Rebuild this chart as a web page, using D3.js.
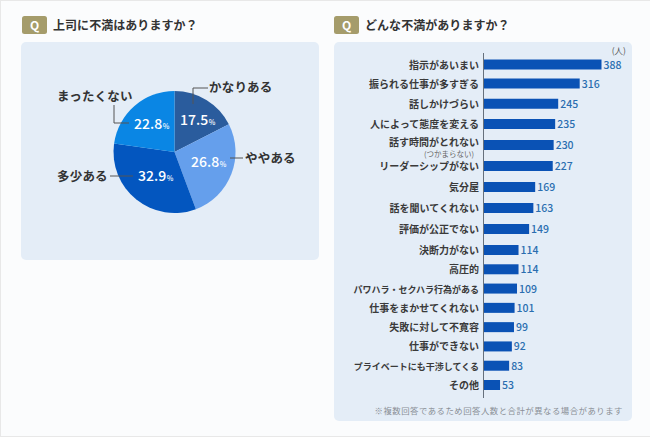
<!DOCTYPE html>
<html>
<head>
  <meta charset="utf-8">
  <script src="https://d3js.org/d3.v7.min.js"></script>
  <style>
    html, body { margin: 0; padding: 0; background: #fbfcfd; }
    svg { display: block; }
    text { font-family: "Noto Sans CJK JP", sans-serif; }
  </style>
</head>
<body>
  <script>
    // pie data
    var pieLabels = ["かなりある", "ややある", "多少ある", "まったくない"];
    var pieValues = [17.5, 26.8, 32.9, 22.8];
    var pieColors = ["#2a5c9d", "#659fec", "#0356bf", "#0a86e4"];

    // bar data
    var barLabels = ["指示があいまい", "振られる仕事が多すぎる", "話しかけづらい", "人によって態度を変える",
      "話す時間がとれない", "リーダーシップがない", "気分屋", "話を聞いてくれない", "評価が公正でない",
      "決断力がない", "高圧的", "パワハラ・セクハラ行為がある", "仕事をまかせてくれない", "失敗に対して不寛容",
      "仕事ができない", "プライベートにも干渉してくる", "その他"];
    var barValues = [388, 316, 245, 235, 230, 227, 169, 163, 149, 114, 114, 109, 101, 99, 92, 83, 53];

    var width = 650, height = 437;
    var svg = d3.select("body").append("svg")
      .attr("width", width)
      .attr("height", height);

    svg.append("rect").attr("x", 0.5).attr("y", 0.5).attr("width", 660).attr("height", 436)
      .attr("fill", "none").attr("stroke", "#e8e8e8");

    function heading(x, txt) {
      svg.append("rect").attr("x", x).attr("y", 16).attr("width", 25).attr("height", 18).attr("rx", 2.5)
        .attr("fill", "#a59c6b");
      svg.append("text").attr("x", x + 12.5).attr("y", 30).attr("text-anchor", "middle")
        .attr("font-size", 12).attr("font-weight", 700).attr("fill", "#fff").text("Q");
      svg.append("text").attr("x", x + 31).attr("y", 30)
        .attr("font-size", 12).attr("font-weight", 700).attr("letter-spacing", 0.05).attr("fill", "#333").text(txt);
    }
    heading(22, "上司に不満はありますか？");
    heading(334, "どんな不満がありますか？");

    svg.append("rect").attr("x", 21).attr("y", 42).attr("width", 298).attr("height", 218).attr("rx", 5).attr("fill", "#e4edf7");
    svg.append("rect").attr("x", 334).attr("y", 42).attr("width", 298).attr("height", 379).attr("rx", 5).attr("fill", "#e4edf7");

    /* pie */
    var radius = 61;
    var pieG = svg.append("g").attr("transform", "translate(174.5,152)");
    var arcs = d3.pie().sort(null)(pieValues);
    var arc = d3.arc().innerRadius(0).outerRadius(radius);

    pieG.selectAll("path").data(arcs).enter().append("path")
      .attr("d", arc)
      .attr("fill", function(d, i) { return pieColors[i]; });

    // leader lines and names are placed by hand around the pie
    var leaders = [
      "M193,104V88H208",
      "M230,158H243",
      "M110,176H133",
      "M114,105V123H129"
    ];
    svg.selectAll("path.leader").data(leaders).enter().append("path")
      .attr("class", "leader")
      .attr("d", function(d) { return d; })
      .attr("fill", "none")
      .attr("stroke", "#555")
      .attr("stroke-width", 1);

    var nameX = [209, 245, 57, 57];
    var nameY = [92, 163, 181, 101];
    svg.selectAll("text.name").data(pieLabels).enter().append("text")
      .attr("class", "name")
      .attr("x", function(d, i) { return nameX[i]; })
      .attr("y", function(d, i) { return nameY[i]; })
      .attr("font-size", 12.5).attr("font-weight", 700).attr("letter-spacing", 0.2)
      .attr("fill", "#333")
      .text(function(d) { return d; });

    var pctX = [180, 191, 138, 134];
    var pctY = [125, 167, 181, 129];
    var pct = svg.selectAll("text.pct").data(pieValues).enter().append("text")
      .attr("class", "pct")
      .attr("x", function(d, i) { return pctX[i]; })
      .attr("y", function(d, i) { return pctY[i]; })
      .attr("fill", "#fff").attr("font-size", 14).attr("font-weight", 500)
      .text(function(d) { return d.toFixed(1); });
    pct.append("tspan").attr("font-size", 7).attr("dx", 0.5).text("%");

    /* bars */
    var x = d3.scaleLinear().domain([0, 388]).range([484, 601.5]);
    // rows are not evenly spaced in the picture
    var rowY = d3.scaleLinear().domain([0, 1, 3, 9, 16]).range([64.5, 83.5, 124, 250, 385]);
    var barH = 10;

    svg.selectAll("rect.bar").data(barValues).enter().append("rect")
      .attr("class", "bar")
      .attr("x", x(0))
      .attr("y", function(d, i) { return rowY(i) - barH / 2; })
      .attr("width", function(d) { return x(d) - x(0); })
      .attr("height", barH)
      .attr("fill", "#0a52b5");

    svg.selectAll("text.val").data(barValues).enter().append("text")
      .attr("class", "val")
      .attr("x", function(d) { return x(d) + 2; })
      .attr("y", function(d, i) { return rowY(i) + 4; })
      .attr("font-size", 10.5).attr("font-weight", 500)
      .attr("fill", "#2a6db0")
      .text(function(d) { return d; });

    svg.selectAll("text.cat").data(barLabels).enter().append("text")
      .attr("class", "cat")
      .attr("x", 479)
      .attr("y", function(d, i) { return i == 4 ? rowY(i) + 0.5 : rowY(i) + 4; })
      .attr("text-anchor", "end")
      .attr("font-size", function(d) { return d.length > 12 ? 9 : 10; })
      .attr("font-weight", 700)
      .attr("fill", "#3a3a3a")
      .text(function(d) { return d; });

    svg.append("text").attr("x", 474).attr("y", 156.8).attr("text-anchor", "end")
      .attr("font-size", 7.5).attr("fill", "#666").text("(つかまらない)");

    svg.append("line").attr("x1", 483.5).attr("x2", 483.5).attr("y1", 53).attr("y2", 398)
      .attr("stroke", "#66707c").attr("stroke-width", 1);

    svg.append("text").attr("x", 626).attr("y", 54).attr("text-anchor", "end")
      .attr("font-size", 8.5).attr("fill", "#555").text("(人)");

    svg.append("text").attr("x", 623).attr("y", 414).attr("text-anchor", "end")
      .attr("font-size", 8.4).attr("letter-spacing", 0.5).attr("fill", "#8a8f96")
      .text("※複数回答であるため回答人数と合計が異なる場合があります");
  </script>
</body>
</html>
